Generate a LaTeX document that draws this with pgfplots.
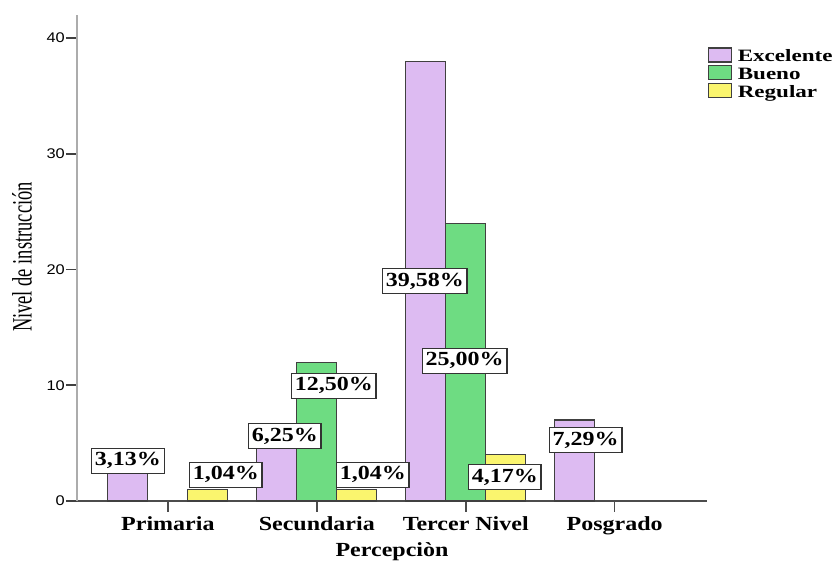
\documentclass[border=0pt]{standalone}
\usepackage{fontspec}
\setmainfont{Liberation Serif}[FakeStretch=1.2]
\newfontfamily\ylabfont{Liberation Serif}[FakeStretch=0.66]
\newfontfamily\tickfont{Liberation Sans}[FakeStretch=1.17]
\newfontfamily\legfont{Liberation Serif}[FakeStretch=1.33]
\usepackage{pgfplots}
\pgfplotsset{compat=1.18}
\definecolor{exc}{RGB}{221,187,242}
\definecolor{bue}{RGB}{110,220,130}
\definecolor{reg}{RGB}{250,245,110}

\begin{document}
\begin{tikzpicture}
\useasboundingbox (0,0) rectangle (628.5pt,420pt);
\begin{axis}[
  at={(57.75pt,44.25pt)}, anchor=south west,
  scale only axis, width=472.5pt, height=364.5pt,
  xmin=-0.61, xmax=3.62, ymin=0, ymax=42,
  ybar=0pt, bar width=30pt,
  axis lines=left, axis line style={-},
  x axis line style={draw=black!70, line width=1.2pt},
  y axis line style={draw=gray!65, line width=1.5pt},
  tick align=outside,
  xtick={0,1,2,3},
  xticklabels={Primaria,Secundaria,Tercer Nivel,Posgrado},
  ytick={0,10,20,30,40},
  x tick style={draw=black!70, line width=1.2pt},
  y tick style={draw=black!75, line width=1.2pt},
  xtick pos=bottom, ytick pos=left,
  major tick length=8pt,
  /pgf/number format/assume math mode=true,
  yticklabel style={font=\tickfont\fontsize{10.5}{12}\selectfont, inner sep=1pt},
  xticklabel style={font=\bfseries\fontsize{15}{18}\selectfont},
  xlabel={Percepciòn},
  xlabel style={font=\bfseries\fontsize{15}{18}\selectfont,
    at={(axis description cs:0.5,-0.104)}, anchor=center},
  ylabel={Nivel de instrucción},
  ylabel style={font=\ylabfont\fontsize{21}{22}\selectfont,
    at={(axis description cs:-0.0873,0.502)}, anchor=center, rotate=0},
  legend style={at={(axis description cs:1.0016,0.934)}, anchor=north west,
    draw=none, fill=none, inner sep=0pt, row sep=0pt, column sep=4pt,
    font=\legfont\bfseries\fontsize{13}{14}\selectfont,
    nodes={inner sep=0pt, text height=8pt, text depth=2.9pt}},
  legend cell align=left,
  legend image code/.code={\draw[#1, line width=0.9pt] (0pt,-3pt) rectangle (17.25pt,7.5pt);},
  clip=false,
]
\addplot[fill=exc, draw=black!75, line width=0.9pt] coordinates {(0,3) (1,6) (2,38) (3,7)};
\addplot[fill=bue, draw=black!75, line width=0.9pt] coordinates {(1,12) (2,24)};
\addplot[fill=reg, draw=black!75, line width=0.9pt] coordinates {(0,1) (1,1) (2,4)};
\legend{Excelente,Bueno,Regular}

\tikzset{lab/.style={draw=black!80, fill=white, line width=1pt,
  font=\bfseries\fontsize{15}{18}\selectfont, inner xsep=2.5pt, inner ysep=2.6pt,
  text height=10.5pt, text depth=3pt}}
\node[lab] at (axis cs:-0.268,3.46) {3,13\%};
\node[lab] at (axis cs:0.389,2.25) {1,04\%};
\node[lab] at (axis cs:0.785,5.6) {6,25\%};
\node[lab] at (axis cs:1.114,9.94) {12,50\%};
\node[lab] at (axis cs:1.376,2.25) {1,04\%};
\node[lab] at (axis cs:1.725,19.0) {39,58\%};
\node[lab] at (axis cs:1.993,12.1) {25,00\%};
\node[lab] at (axis cs:2.262,2.07) {4,17\%};
\node[lab] at (axis cs:2.805,5.27) {7,29\%};
\end{axis}
\end{tikzpicture}
\end{document}
